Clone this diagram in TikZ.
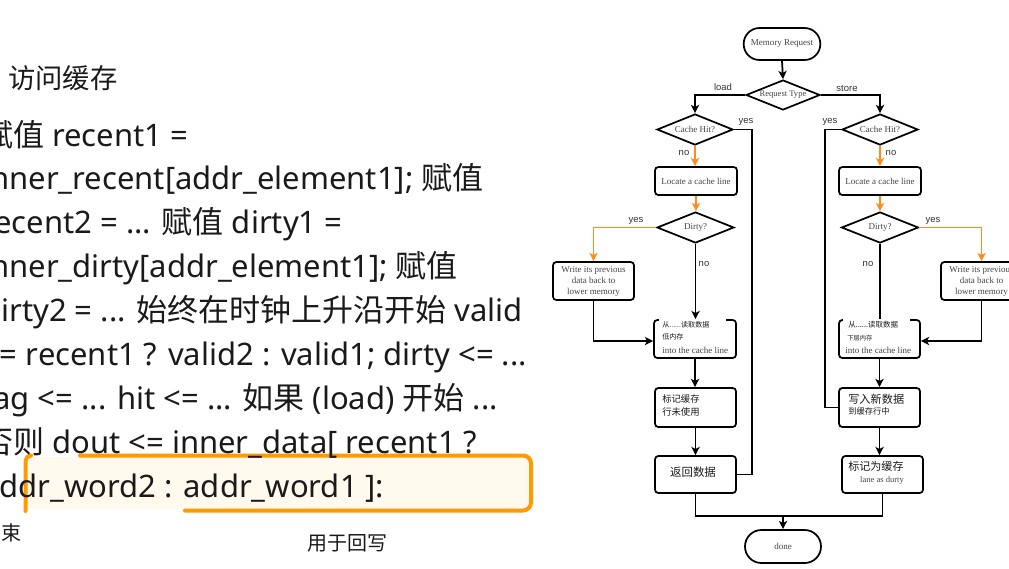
\documentclass[tikz,border=0pt]{standalone}
\usepackage{fontspec}
\setmainfont{Noto Sans}
\newfontfamily\cjk{Noto Sans CJK SC}
\newfontfamily\serifface{Liberation Serif}
\newfontfamily\labelface{Liberation Sans}
\usetikzlibrary{arrows.meta,shapes.geometric}

\newcommand{\cjktxt}[1]{{\cjk #1}}

\definecolor{flowor}{HTML}{FF8C1A}
\definecolor{markor}{HTML}{FF9A00}
\definecolor{markfill}{HTML}{FFF9EE}
\definecolor{serifgray}{HTML}{444444}
\definecolor{labelgray}{HTML}{333333}
\definecolor{inkblack}{HTML}{1A1A1A}

\tikzset{
  bigtext/.style={font=\fontsize{23.25}{27}\selectfont, text=inkblack, inner sep=0pt, anchor=base west},
  midtext/.style={font=\cjk\fontsize{15}{18}\selectfont, text=inkblack, inner sep=0pt, anchor=base west},
  fbox/.style={draw=black, line width=1.3pt, rounded corners=2.5pt, fill=white, inner sep=0pt},
  stadium/.style={fbox, rounded corners=11.9pt, minimum width=57.5pt, minimum height=24pt,
    font=\serifface\fontsize{6.75}{8.25}\selectfont, text=serifgray},
  decision/.style={diamond, draw=black, line width=1.3pt, inner sep=0pt, fill=white,
    minimum width=57pt, minimum height=23.25pt,
    font=\serifface\fontsize{6.75}{8.25}\selectfont, text=serifgray},
  stext/.style={font=\serifface\fontsize{6.75}{8.25}\selectfont, text=serifgray, inner sep=0pt},
  ztext/.style={font=\cjk\fontsize{#1}{#1}\selectfont, text=inkblack, inner sep=0pt, anchor=west},
  lbl/.style={font=\labelface\fontsize{7.1}{8.5}\selectfont, text=labelgray, inner sep=0pt},
  flow/.style={line width=1.3pt, draw=black},
  oflow/.style={line width=1.3pt, draw=flowor},
  arr/.style={-{Stealth[length=6.2pt,width=6.2pt,inset=1.6pt]}},
}

\begin{document}
\begin{tikzpicture}[x=0.75pt,y=-0.75pt]
\useasboundingbox (0,0) rectangle (1009,568);
\fill[white] (0,0) rectangle (1009,568);
\clip (0,0) rectangle (1009,568);

% ---------- highlighted line ----------
\fill[markfill, rounded corners=6pt] (27,457) rectangle (530,509);
\draw[markor, line width=3pt, line cap=round, rounded corners=6pt]
  (80,455.5) -- (531,455.5) -- (531,510.5) -- (185,510.5);
\draw[markor, line width=3pt, line cap=round]
  (31,455.5) to[out=180,in=90] (25.5,461) -- (25.5,511);

% ---------- code text ----------
\node[midtext, font=\cjk\fontsize{20.5}{24}\selectfont] (head) at (8,88.5) {访问缓存};
\node[bigtext] (l1) at (-18,146) {\cjktxt{赋值} recent1 =};
\node[bigtext] (l2) at (-18,189.9) {inner\_recent[addr\_element1]; \cjktxt{赋值}};
\node[bigtext] (l3) at (-18,233.75) {recent2 = ... \cjktxt{赋值} dirty1 =};
\node[bigtext] (l4) at (-18,277.6) {inner\_dirty[addr\_element1]; \cjktxt{赋值}};
\node[bigtext] (l5) at (-18,321.5) {dirty2 = ... \cjktxt{始终在时钟上升沿开始} valid};
\node[bigtext] (l6) at (-18,365.4) {<= recent1 ? valid2 : valid1; dirty <= ...};
\node[bigtext] (l7) at (-18,409.25) {tag <= ... hit <= ... \cjktxt{如果} (load) \cjktxt{开始} ...};
\node[bigtext] (l8) at (-18,453.1) {\cjktxt{否则} dout <= inner\_data[ recent1 ?};
\node[bigtext] (l9) at (-18,497) {addr\_word2 : addr\_word1 ]:};
\node[midtext] (l10) at (-19,540) {结束};
\node[midtext] (note) at (307,550) {用于回写};

% ---------- flowchart nodes ----------
\node[stadium] (mr) at (782,44) {Memory Request};
\node[decision, minimum width=55.5pt, minimum height=22.5pt, font=\serifface\fontsize{6.4}{8}\selectfont] (rt) at (783,95) {\makebox[0pt]{Request Type}};
\node[decision] (chL) at (695,129.5) {\makebox[0pt]{Cache Hit?}};
\node[decision] (chR) at (880,129.5) {\makebox[0pt]{Cache Hit?}};
\node[fbox, minimum width=61.5pt, minimum height=21pt, stext] (locL) at (696,181) {Locate a cache line};
\node[fbox, minimum width=61.5pt, minimum height=21pt, stext] (locR) at (880,181) {Locate a cache line};
\node[decision, minimum width=57.75pt] (dL) at (695.5,227.5) {\makebox[0pt]{Dirty?}};
\node[decision, minimum width=57.75pt] (dR) at (880,227.5) {\makebox[0pt]{Dirty?}};
\node[fbox, minimum width=60.75pt, minimum height=28.5pt, stext, align=center] (wbL) at (593.5,281)
  {Write its previous\\data back to\\lower memory};
\node[fbox, minimum width=60.75pt, minimum height=28.5pt, stext, align=center] (wbR) at (981.5,281)
  {Write its previous\\data back to\\lower memory};
\node[fbox, minimum width=61.5pt, minimum height=28.5pt] (rdL) at (695,339) {};
\node[fbox, minimum width=60.75pt, minimum height=28.5pt] (rdR) at (879.5,339) {};
\node[fbox, minimum width=60.75pt, minimum height=29.25pt] (mkL) at (695.5,407.5) {};
\node[fbox, minimum width=60.75pt, minimum height=29.25pt] (wrR) at (879.5,407.5) {};
\node[fbox, minimum width=60.75pt, minimum height=27.75pt] (retL) at (695.5,474.5) {};
\node[fbox, minimum width=60.75pt, minimum height=27.75pt] (mkR) at (882.5,474.5) {};
\node[stadium, minimum width=57pt, minimum height=24.75pt, rounded corners=12.3pt] (done) at (783,546.5) {done};

% pasted text patches over the read boxes
\fill[white] (659,317) rectangle (726,331);
\fill[white] (843,317) rectangle (910,331);

% box texts
\node[ztext=5.3] (rdL1) at (662,325) {从......读取数据};
\node[ztext=5.3] (rdL2) at (662,336.5) {低内存};
\node[stext, anchor=west] (rdL3) at (662,350) {into the cache line};
\node[ztext=5.6] (rdR1) at (848,325) {从......读取数据};
\node[ztext=4.7] (rdR2) at (847,338) {下层内存};
\node[stext, anchor=west] (rdR3) at (845,350) {into the cache line};
\node[ztext=7] (mkL1) at (662,399) {标记缓存};
\node[ztext=7] (mkL2) at (662,412) {行未使用};
\node[ztext=8.6, anchor=center] (retL1) at (693,472) {返回数据};
\node[ztext=8.4] (wrR1) at (848,399) {写入新数据};
\node[ztext=6.2] (wrR2) at (848,411) {到缓存行中};
\node[ztext=8.3] (mkR1) at (848,466) {标记为缓存};
\node[stext, font=\serifface\fontsize{6.4}{7.5}\selectfont] (mkR2) at (882,480) {lane as durty};

% ---------- connectors ----------
\draw[flow, arr] (mr.south) -- (rt.north);
\draw[flow, arr] (rt.west) -| (chL.north);
\draw[flow, arr] (rt.east) -| (chR.north);
\node[lbl] (tload) at (723,87) {load};
\node[lbl] (tstore) at (847,88) {store};

\draw[flow] (chL.east) -- ++(18,0) |- (retL.east);
\draw[flow] (chR.west) -- ++(-16,0) |- (wrR.west);
\node[lbl] (tyL) at (746,122) {yes};
\node[lbl] (tyR) at (830,122) {yes};

\draw[oflow, arr] (chL.south) -- (chL.south |- locL.north);
\draw[oflow, arr] (chR.south) -- (chR.south |- locR.north);
\node[lbl] (tnL) at (684,153) {no};
\node[lbl] (tnR) at (891,153) {no};

\draw[oflow, arr] (locL.south) -- (locL.south |- dL.north);
\draw[oflow, arr] (locR.south) -- (locR.south |- dR.north);

\draw[oflow, arr] (dL.west) -| (wbL.north);
\draw[oflow, arr] (dR.east) -| (wbR.north);
\node[lbl] (tdyL) at (636,221) {yes};
\node[lbl] (tdyR) at (933,221) {yes};

\draw[flow, arr] (dL.south) -- (dL.south |- rdL.north);
\draw[flow] (dR.south) -- (dR.south |- rdR.north);
\node[lbl] (tdnL) at (704,264) {no};
\node[lbl] (tdnR) at (868,264) {no};

\draw[flow, arr] (wbL.south) |- ([yshift=-1.5pt]rdL.west);
\draw[flow, arr] (wbR.south) |- ([yshift=-1.5pt]rdR.east);

\draw[flow, arr] (rdL.south) -- (rdL.south |- mkL.north);
\draw[flow, arr] (mkL.south) -- (mkL.south |- retL.north);
\draw[flow, arr] (rdR.south) -- (rdR.south |- wrR.north);
\draw[flow, arr] (wrR.south) -- (wrR.south |- mkR.north);

\coordinate (join) at (783,516);
\draw[flow] (retL.south) |- (join) -| (mkR.south);
\draw[flow, arr] (join) -- (done.north);
\end{tikzpicture}
\end{document}
